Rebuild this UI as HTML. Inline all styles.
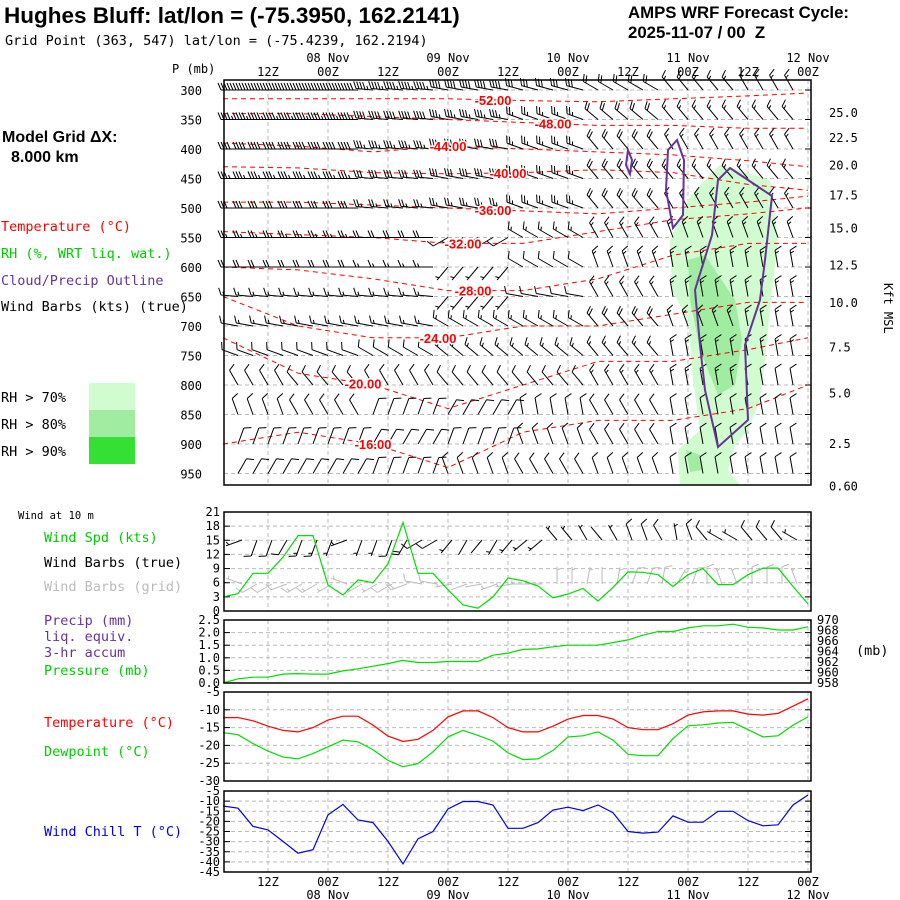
<!DOCTYPE html>
<html><head><meta charset="utf-8"><style>
body{margin:0;background:#fff}
svg{display:block}
.t{font-family:"DejaVu Sans Mono","Liberation Mono",monospace;font-size:13.5px}
.tk{font-family:"DejaVu Sans Mono","Liberation Mono",monospace;font-size:12px}
.sm{font-family:"DejaVu Sans Mono","Liberation Mono",monospace;font-size:10.5px}
</style></head><body>
<svg id="s" width="900" height="900" viewBox="0 0 900 900" xmlns="http://www.w3.org/2000/svg">
<text x="4" y="23" font-family="Liberation Sans,sans-serif" font-size="22.5" font-weight="bold">Hughes Bluff:  lat/lon = (-75.3950, 162.2141)</text>
<text x="5" y="45" class="t" font-size="14.3">Grid Point (363, 547) lat/lon = (-75.4239, 162.2194)</text>
<text x="628" y="18" font-family="Liberation Sans,sans-serif" font-size="16.8" font-weight="bold">AMPS WRF Forecast Cycle:</text>
<text x="628" y="38" font-family="Liberation Sans,sans-serif" font-size="16.8" font-weight="bold" xml:space="preserve">2025-11-07 / 00  Z</text>
<text x="172" y="73" class="tk">P (mb)</text>
<text x="2" y="142" font-family="Liberation Sans,sans-serif" font-size="16" font-weight="bold">Model Grid ΔX:</text>
<text x="11" y="162" font-family="Liberation Sans,sans-serif" font-size="16" font-weight="bold">8.000 km</text>
<text x="1" y="231" class="t" fill="#ff0000">Temperature (°C)</text>
<text x="1" y="258" class="t" fill="#00cc00">RH (%, WRT liq. wat.)</text>
<text x="1" y="285" class="t" fill="#663399">Cloud/Precip Outline</text>
<text x="1" y="311" class="t">Wind Barbs (kts) (true)</text>
<text x="1" y="402" class="t">RH &gt; 70%</text>
<text x="1" y="429" class="t">RH &gt; 80%</text>
<text x="1" y="456" class="t">RH &gt; 90%</text>
<rect x="89" y="383" width="46" height="27" fill="#d0fcd0"/>
<rect x="89" y="410" width="46" height="27" fill="#a0eca0"/>
<rect x="89" y="437" width="46" height="27" fill="#33e033"/>
<text x="0" y="0" class="tk" transform="translate(884,283) rotate(90)">Kft MSL</text>
<text x="18" y="519" class="sm" font-size="9.5">Wind at 10 m</text>
<text x="44" y="542" class="t" fill="#00cc00">Wind Spd (kts)</text>
<text x="44" y="567" class="t">Wind Barbs (true)</text>
<text x="44" y="591" class="t" fill="#bbbbbb">Wind Barbs (grid)</text>
<text x="44" y="625" class="t" fill="#663399">Precip (mm)</text>
<text x="44" y="641" class="t" fill="#663399">liq. equiv.</text>
<text x="44" y="657" class="t" fill="#663399">3-hr accum</text>
<text x="44" y="675" class="t" fill="#00cc00">Pressure (mb)</text>
<text x="856" y="655" class="t">(mb)</text>
<text x="44" y="727" class="t" fill="#ff0000">Temperature (°C)</text>
<text x="44" y="756" class="t" fill="#00cc00">Dewpoint (°C)</text>
<text x="44" y="836" class="t" fill="#0000ee">Wind Chill T (°C)</text>
<g id="g"></g>
</svg>
<script>
// ---------- data ----------
const hours = [];for(let h=3;h<=120;h+=3)hours.push(h);
const timeTicks=[12,24,36,48,60,72,84,96,108,120];
const timeTickLabels=["12Z","00Z","12Z","00Z","12Z","00Z","12Z","00Z","12Z","00Z"];
const dayLabels=["08 Nov","09 Nov","10 Nov","11 Nov","12 Nov"];
const dayHours=[24,48,72,96,120];
const levels=[300,350,400,450,500,550,600,650,700,750,800,850,900,950];
const kftTicks=["25.0","22.5","20.0","17.5","15.0","12.5","10.0","7.5","5.0","2.5","0.60"];
const kftPress=[337,380,426,477,533,596,659,735,813,898,970];
const barbDir=[
[270,270,275,280,285,300,320,330],[270,270,275,280,290,310,320,320],
[270,270,275,280,290,320,330,330],[270,270,275,280,290,320,320,320],
[270,270,275,280,290,320,330,330],[270,270,270,240,300,330,340,340],
[270,270,270,220,300,340,350,350],[275,275,275,220,280,330,350,350],
[280,280,280,300,300,320,340,350],[290,290,300,310,310,320,350,350],
[330,320,330,320,320,330,350,350],[340,330,20,30,350,330,350,350],
[20,20,30,20,340,330,350,350],[30,30,20,340,330,340,350,350]];
const barbSpd=[
[50,50,45,40,30,20,15,15],[45,45,40,35,25,20,15,15],[40,40,35,30,25,20,15,15],
[35,35,30,30,25,20,15,15],[30,30,25,25,25,20,15,15],[25,25,20,10,15,15,15,15],
[20,20,15,5,10,15,15,15],[15,15,15,5,10,15,15,15],[15,15,15,15,15,20,15,15],
[10,10,10,15,15,15,15,15],[10,10,10,10,10,15,15,10],[10,10,10,10,10,10,10,10],
[10,10,10,10,10,10,10,10],[10,10,10,10,10,10,10,10]];
const contourVals=[-52,-48,-44,-40,-36,-32,-28,-24,-20,-16];
const contourHours=[3,18,33,48,63,78,93,108,120];
const cP52=[315,315,315,315,318,320,315,310,305];
const cP48=[340,340,345,350,355,360,360,365,365];
const cP44=[390,395,405,395,400,405,410,420,430];
const cP40=[430,432,440,442,440,435,440,460,470];
const cP36=[490,490,495,500,505,510,500,490,480];
const cP32=[540,545,550,560,560,540,520,510,500];
const cP28=[600,605,620,640,640,620,580,560,560];
const cP24=[650,700,720,720,700,700,680,660,660];
const cP20=[720,780,800,840,800,760,760,740,720];
const cP16=[900,880,900,940,880,860,860,840,800];
const contourLabelHours=[57,69,48,60,57,51,53,46,31,33];
const windSpd=[3,3.7,8,8,11.4,16,16,5.5,3.4,6.6,6,10,18.8,8,8,4.5,1.3,0.6,3,7,6.4,5.3,2.8,3.6,4.8,2.1,5,8.3,8.2,7.7,5.2,7.7,9,5.6,5.6,7.7,9.1,9.1,5.2,1.5];
const windDir10=[250,250,200,200,210,200,200,200,250,200,200,200,210,240,240,220,210,220,210,220,230,230,320,320,330,320,330,340,340,330,350,340,320,300,300,320,320,320,300,300];
const pressure=[958,958.8,959.1,959.1,959.7,959.8,959.7,959.7,960.3,960.7,961.2,961.7,962.3,961.9,961.9,962.1,962.1,962.1,963.3,963.7,964.4,964.5,964.9,965.2,965.2,965.2,965.7,966.2,967.1,967.8,967.8,968.5,968.9,968.9,969.2,968.6,968.5,968.1,968.1,968.7];
const temp=[-12.2,-12.2,-13.1,-14.6,-15.8,-16.2,-15,-12.9,-11.8,-11.8,-14.3,-17.4,-18.9,-18.3,-15.8,-12,-10.3,-10.3,-12.2,-15,-16.2,-16.2,-14.6,-12.6,-11.6,-11.6,-12.6,-15,-15.6,-15.6,-13.9,-11.5,-10.6,-10.3,-10.3,-11.2,-11.5,-11,-9,-6.9];
const dewpt=[-16.4,-17,-19.5,-21.6,-23.3,-23.8,-22.3,-20.4,-18.5,-19,-21.2,-24.2,-26,-25.1,-21.8,-17.6,-15.8,-17.2,-18.8,-22.1,-24,-23.8,-21.4,-17.6,-17.3,-16.2,-18.5,-22.5,-22.9,-22.9,-18.1,-14.5,-14.2,-13.7,-13.5,-15.6,-17.6,-17.3,-14.3,-12];
const windChill=[-12.4,-13.5,-22.5,-24.2,-29.9,-35.7,-34,-16.8,-11.6,-19.3,-20.6,-29.9,-41,-28.6,-25,-13.9,-10.2,-10.2,-11.9,-23.4,-23.4,-20.6,-14.4,-13,-14.7,-11.9,-15.7,-25,-25.8,-25.3,-17.3,-20.4,-20.4,-15,-15,-19.6,-22.2,-21.7,-11.9,-7];

// ---------- helpers ----------
const NS="http://www.w3.org/2000/svg",G=document.getElementById('g');
function el(tag,attrs,parent){const e=document.createElementNS(NS,tag);for(const k in attrs)e.setAttribute(k,attrs[k]);(parent||G).appendChild(e);return e;}
const X=h=>208+5*h;
const L=224,R=811;
const Y=p=>90+(p-300)/50*29.5;
function poly(xs,ys){return xs.map((x,i)=>x.toFixed(1)+','+ys[i].toFixed(1)).join(' ');}
function barb(gp,x,y,dir,spd,col){
  const a=dir*Math.PI/180,len=17;
  const dx=Math.sin(a),dy=-Math.cos(a);
  const ex=x+dx*len,ey=y+dy*len;
  let d=`M${x},${y}L${ex},${ey}`;
  const px=-dy,py=dx;
  let r=Math.round(spd/5)*5,pos=0;
  while(r>=10){const bx=ex-dx*pos,by=ey-dy*pos;d+=`M${bx},${by}l${(px*7+dx*3).toFixed(1)},${(py*7+dy*3).toFixed(1)}`;pos+=3;r-=10;}
  if(r>=5){if(pos===0)pos=3;const bx=ex-dx*pos,by=ey-dy*pos;d+=`M${bx},${by}l${(px*3.5+dx*1.5).toFixed(1)},${(py*3.5+dy*1.5).toFixed(1)}`;}
  const b=el('path',{d:d,stroke:col,'stroke-width':1,fill:'none'},gp);
  
  
}
function vgrid(top,bot,name){
  timeTicks.forEach(h=>{const l=el('line',{x1:X(h),x2:X(h),y1:top,y2:bot,stroke:'#bbb','stroke-dasharray':'4,3'});
  });
}
function frame(top,bot,name){
  const r=el('rect',{x:L,y:top,width:R-L,height:bot-top,fill:'none',stroke:'#000','stroke-width':1.5});
  
}
function hgridTicks(vals,yf,labels,side,name,dash){
  vals.forEach((v,i)=>{const y=yf(v);
    if(dash){const l=el('line',{x1:L,x2:R,y1:y,y2:y,stroke:'#bbb','stroke-dasharray':'4,3'});}
    const t=el('text',{x:side==='l'?L-4:R+6,y:y+4,'text-anchor':side==='l'?'end':'start',class:'tk'});
    t.textContent=labels[i];
    el('line',{x1:L,x2:L+6,y1:y,y2:y,stroke:'#000'});el('line',{x1:R-6,x2:R,y1:y,y2:y,stroke:'#000'});
  });
}
function series(vals,yf,col,name){
  const l=el('polyline',{points:poly(hours.map(X),vals.map(yf)),fill:'none',stroke:col,'stroke-width':1.2});
  
}

// ---------- main panel ----------
const mT=80,mB=485;
vgrid(mT,mB,'main');
levels.forEach(p=>{const l=el('line',{x1:L,x2:R,y1:Y(p),y2:Y(p),stroke:'#bbb','stroke-dasharray':'4,3'});
 
 const t=el('text',{x:L-22,y:Y(p)+5,'text-anchor':'end',class:'tk','font-size':'13'});t.textContent=p;
 
 el('line',{x1:R-6,x2:R,y1:Y(p),y2:Y(p),stroke:'#000'});});
const rh1=el('path',{d:'M700,185L720,165L770,180L778,240L772,290L765,360L760,400L748,430L735,445L728,470L740,485L680,485L678,450L700,430L693,380L688,320L672,290L670,240L688,200Z',fill:'#d0fcd0'});

const rh2=el('path',{d:'M688,260L705,255L735,300L742,340L735,385L718,395L700,350L690,300Z',fill:'#a0eca0'});

const rh3=el('path',{d:'M686,450L700,455L702,470L690,472Z',fill:'#a0eca0'});

const cArr=[cP52,cP48,cP44,cP40,cP36,cP32,cP28,cP24,cP20,cP16];
cArr.forEach((arr,i)=>{
  const c=el('polyline',{points:poly(contourHours.map(X),arr.map(Y)),fill:'none',stroke:'#ff0000','stroke-width':1,'stroke-dasharray':'5,4'});
  
});
const bg=el('g',{});
levels.forEach((p,li)=>{hours.forEach((h,ci)=>{if(X(h)<L+2||X(h)>R-4)return;const s=Math.floor(ci/5);barb(bg,X(h),Y(p),barbDir[li][s],barbSpd[li][s],'#000');});});
['M730,168L772,196L765,260L760,300L745,345L748,420L718,447L705,390L700,345L695,290L712,235L718,180Z',
 'M677,140L684,160L683,215L673,228L666,190L668,150Z','M628,150L632,160L630,174L626,165Z'].forEach(d=>{
 const o=el('path',{d:d,fill:'none',stroke:'#663399','stroke-width':2});
 });
cArr.forEach((arr,i)=>{
  const h=contourLabelHours[i];let k=0;while(k<contourHours.length-2&&contourHours[k+1]<h)k++;
  const f=(h-contourHours[k])/(contourHours[k+1]-contourHours[k]);const p=arr[k]+(arr[k+1]-arr[k])*f;
  const t=el('text',{x:X(h),y:Y(p)+5,'text-anchor':'middle','font-family':'Liberation Sans,sans-serif','font-size':'13','font-weight':'bold',fill:'#ff0000',stroke:'#fff','stroke-width':3,'paint-order':'stroke'});
  t.textContent=contourVals[i].toFixed(2);
});
frame(mT,mB,'main-panel');
kftTicks.forEach((k,i)=>{const t=el('text',{x:R+18,y:Y(kftPress[i])+5,class:'tk','font-size':'13'});t.textContent=k;
 });
timeTicks.forEach((h,i)=>{const t=el('text',{x:X(h),y:76,'text-anchor':'middle',class:'tk','font-size':'13'});t.textContent=timeTickLabels[i];
 });
dayHours.forEach((h,i)=>{const t=el('text',{x:X(h),y:62,'text-anchor':'middle',class:'tk','font-size':'13'});t.textContent=dayLabels[i];
 });

// ---------- wind panel ----------
const wT=512,wB=611,yW=v=>wB-(v/21)*(wB-wT);
vgrid(wT,wB,'wind');
hgridTicks([0,3,6,9,12,15,18,21],yW,["0","3","6","9","12","15","18","21"],'l','wind-speed',true);
const wg=el('g',{});
hours.forEach((h,i)=>{if(X(h)<L+2||X(h)>R-4)return;barb(wg,X(h)+4,540,windDir10[i],windSpd[i],'#000');barb(wg,X(h)+4,584,(windDir10[i]+40)%360,windSpd[i],'#bbb');});
series(windSpd,yW,'#00dd00','wind-speed-line');
frame(wT,wB,'wind-panel');

// ---------- precip/pressure panel ----------
const pT=620,pB=683,yPr=v=>pB-(v-958)/12*(pB-pT),yPc=v=>pB-v/2.5*(pB-pT);
vgrid(pT,pB,'precip');
hgridTicks([0,0.5,1,1.5,2,2.5],yPc,["0.0","0.5","1.0","1.5","2.0","2.5"],'l','precip',true);
[958,960,962,964,966,968,970].forEach(v=>{const t=el('text',{x:R+6,y:yPr(v)+4,class:'tk','font-size':'11'});t.textContent=v;
 });
series(pressure,yPr,'#00dd00','pressure-line');
frame(pT,pB,'precip-panel');

// ---------- temperature panel ----------
const tT=692,tB=781,yT=v=>tT+(-5-v)/25*(tB-tT);
vgrid(tT,tB,'temp');
hgridTicks([-5,-10,-15,-20,-25,-30],yT,["-5","-10","-15","-20","-25","-30"],'l','temp',true);
series(temp,yT,'#ff0000','temperature-line');
series(dewpt,yT,'#00dd00','dewpoint-line');
frame(tT,tB,'temp-panel');

// ---------- wind chill panel ----------
const cT=791,cB=872,yC=v=>cT+(-5-v)/40*(cB-cT);
vgrid(cT,cB,'chill');
hgridTicks([-5,-10,-15,-20,-25,-30,-35,-40,-45],yC,["-5","-10","-15","-20","-25","-30","-35","-40","-45"],'l','chill',true);
series(windChill,yC,'#0000ee','wind-chill-line');
frame(cT,cB,'chill-panel');
timeTicks.forEach((h,i)=>{const t=el('text',{x:X(h),y:886,'text-anchor':'middle',class:'tk','font-size':'13'});t.textContent=timeTickLabels[i];
 });
dayHours.forEach((h,i)=>{const t=el('text',{x:X(h),y:899,'text-anchor':'middle',class:'tk','font-size':'13'});t.textContent=dayLabels[i];
 });
</script>
</body></html>
